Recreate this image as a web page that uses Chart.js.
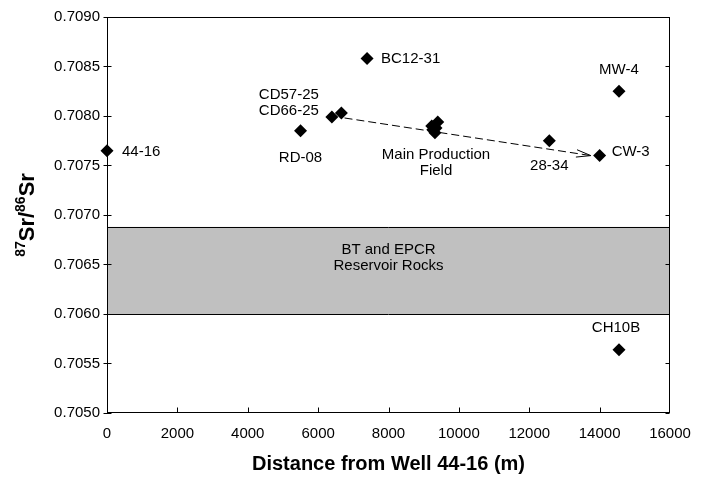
<!DOCTYPE html>
<html>
<head>
<meta charset="utf-8">
<script src="https://cdn.jsdelivr.net/npm/chart.js@4.4.0/dist/chart.umd.min.js"></script>
<style>
    html, body { margin: 0; padding: 0; background: #fff; }
    #wrap { width: 715px; height: 482px; }
</style>
</head>
<body>
<div id="wrap"><canvas id="srChart"></canvas></div>
<script>
/* Sr isotope ratio vs distance from well 44-16 */

// one entry per sampled well
const distance = [0, 5500, 6390, 6660, 7390, 9230, 9400, 9320, 9350, 9260, 12570, 14000, 14550, 14550];
const srRatio = [0.70765, 0.70785, 0.70799, 0.70803, 0.70858, 0.70790, 0.70794, 0.70783, 0.70788, 0.70786, 0.70775, 0.70760, 0.70825, 0.70564];

// text labels and the point each is tied to
const labelText = ["44-16", "RD-08", "CD57-25", "CD66-25", "BC12-31", "Main Production", "Field", "28-34", "CW-3", "MW-4", "CH10B"];
const labelPoint = [0, 1, 2, 2, 4, 8, 8, 10, 11, 12, 13];

// reservoir rock band
const reservoirRange = [0.7060, 0.70688];
const reservoirText = ["BT and EPCR", "Reservoir Rocks"];

// trend arrow (distance, ratio)
const arrowFrom = [6750, 0.70798];
const arrowTo = [13750, 0.70760];

const xTickValues = [0, 2000, 4000, 6000, 8000, 10000, 12000, 14000, 16000];
const yTickValues = [0.7050, 0.7055, 0.7060, 0.7065, 0.7070, 0.7075, 0.7080, 0.7085, 0.7090];

const FONT = "Arial, 'Liberation Sans', sans-serif";

// pixel offsets for labels: [dx, dy, align]
const labelLayout = [
    [15, 1, "left"], [0, 27, "center"], [-43, -22, "center"], [-43, -6, "center"],
    [14, 0, "left"], [0, 27, "center"], [0, 43, "center"], [0, 25, "center"],
    [12, -4, "left"], [0, -21, "center"], [-3, -22, "center"]
];

const bandPlugin = {
    id: "band",
    beforeDatasetsDraw(chart) {
        const { ctx, chartArea: a, scales: { y } } = chart;
        const top = y.getPixelForValue(reservoirRange[1]);
        const bot = y.getPixelForValue(reservoirRange[0]);
        ctx.save();
        ctx.fillStyle = "#c0c0c0";
        ctx.fillRect(a.left, top, a.right - a.left, bot - top);
        ctx.strokeStyle = "#000";
        ctx.lineWidth = 1;
        ctx.beginPath();
        ctx.moveTo(a.left, Math.round(top) + 0.5); ctx.lineTo(a.right, Math.round(top) + 0.5);
        ctx.moveTo(a.left, Math.round(bot) + 0.5); ctx.lineTo(a.right, Math.round(bot) + 0.5);
        ctx.stroke();
        ctx.fillStyle = "#000";
        ctx.font = "15px " + FONT;
        ctx.textAlign = "center";
        ctx.textBaseline = "middle";
        const cx = (a.left + a.right) / 2;
        ctx.fillText(reservoirText[0], cx, top + 23);
        ctx.fillText(reservoirText[1], cx, top + 39);
        ctx.restore();
    }
};

const framePlugin = {
    id: "frame",
    afterDraw(chart) {
        const { ctx, chartArea: a, scales: { x, y } } = chart;
        ctx.save();
        ctx.strokeStyle = "#000";
        ctx.lineWidth = 1;
        const L = Math.round(a.left) + 0.5, R = Math.round(a.right) - 0.5;
        const T = Math.round(a.top) + 0.5, B = Math.round(a.bottom) - 0.5;
        ctx.strokeRect(L, T, R - L, B - T);
        ctx.beginPath();
        yTickValues.forEach(v => {
            const py = Math.round(y.getPixelForValue(v)) + 0.5;
            ctx.moveTo(L - 4, py); ctx.lineTo(L + 4, py);
            ctx.moveTo(R - 4, py); ctx.lineTo(R, py);
        });
        xTickValues.slice(1, -1).forEach(v => {
            const px = Math.round(x.getPixelForValue(v)) + 0.5;
            ctx.moveTo(px, B); ctx.lineTo(px, B - 5);
        });
        ctx.stroke();

        // arrow head
        const sx = x.getPixelForValue(arrowFrom[0]), sy = y.getPixelForValue(arrowFrom[1]);
        const ex = x.getPixelForValue(arrowTo[0]), ey = y.getPixelForValue(arrowTo[1]);
        const ang = Math.atan2(ey - sy, ex - sx);
        ctx.beginPath();
        [0.25, -0.25].forEach(d => {
            ctx.moveTo(ex, ey);
            ctx.lineTo(ex - 15 * Math.cos(ang + d), ey - 15 * Math.sin(ang + d));
        });
        ctx.stroke();

        // point labels
        ctx.fillStyle = "#000";
        ctx.font = "15px " + FONT;
        ctx.textBaseline = "middle";
        labelText.forEach((t, i) => {
            const p = labelPoint[i];
            const [dx, dy, al] = labelLayout[i];
            ctx.textAlign = al;
            ctx.fillText(t, x.getPixelForValue(distance[p]) + dx, y.getPixelForValue(srRatio[p]) + dy);
        });

        // y axis title with superscripts
        const parts = [["87", true], ["Sr/", false], ["86", true], ["Sr", false]];
        const bigF = "bold 22px " + FONT, supF = "bold 14px " + FONT;
        let total = 0;
        parts.forEach(([t, s]) => { ctx.font = s ? supF : bigF; total += ctx.measureText(t).width; });
        ctx.translate(26, (a.top + a.bottom) / 2);
        ctx.rotate(-Math.PI / 2);
        ctx.textAlign = "left";
        ctx.textBaseline = "alphabetic";
        let cur = -total / 2;
        parts.forEach(([t, s]) => {
            ctx.font = s ? supF : bigF;
            ctx.fillText(t, cur, s ? -1 : 8);
            cur += ctx.measureText(t).width;
        });
        ctx.restore();
    }
};

new Chart(document.getElementById("srChart"), {
    type: "scatter",
    data: {
        datasets: [
            {
                label: "Wells",
                data: distance.map((d, i) => ({ x: d, y: srRatio[i] })),
                pointStyle: "rectRot",
                pointRadius: 6.5,
                pointHoverRadius: 6.5,
                backgroundColor: "#000",
                borderWidth: 0,
                clip: false,
            },
            {
                type: "line",
                label: "Trend",
                data: [{ x: arrowFrom[0], y: arrowFrom[1] }, { x: arrowTo[0], y: arrowTo[1] }],
                borderColor: "#000",
                borderWidth: 1,
                borderDash: [8, 4],
                pointRadius: 0,
                fill: false,
            },
        ],
    },
    options: {
        responsive: true,
        maintainAspectRatio: false,
        animation: false,
        events: [],
        layout: { padding: { top: 17, right: 45, left: 0, bottom: 0 } },
        plugins: { legend: { display: false }, tooltip: { enabled: false } },
        scales: {
            x: {
                type: "linear",
                min: 0, max: 16000,
                afterBuildTicks: s => { s.ticks = xTickValues.map(v => ({ value: v })); },
                afterFit: s => { s.height = 69; },
                grid: { display: false, drawTicks: false },
                border: { display: false },
                ticks: { color: "#000", font: { size: 15, family: FONT }, padding: 12, maxRotation: 0, callback: v => String(v) },
                title: { display: true, text: "Distance from Well 44-16 (m)", color: "#000", font: { size: 20, weight: "bold", family: FONT }, padding: { top: 0, bottom: 6 } },
            },
            y: {
                type: "linear",
                min: 0.7050, max: 0.7090,
                afterBuildTicks: s => { s.ticks = yTickValues.map(v => ({ value: v })); },
                afterFit: s => { s.width = 107; },
                grid: { display: false, drawTicks: false },
                border: { display: false },
                ticks: { color: "#000", font: { size: 15, family: FONT }, padding: 7, callback: v => v.toFixed(4) },
            },
        },
    },
    plugins: [bandPlugin, framePlugin],
});
</script>
</body>
</html>
